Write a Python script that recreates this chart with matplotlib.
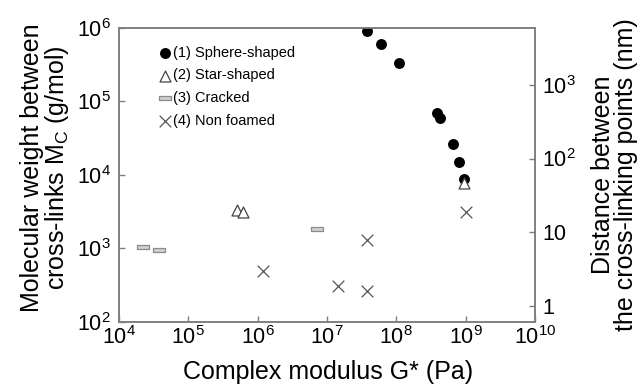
import matplotlib
matplotlib.use("Agg")
import matplotlib.pyplot as plt
import numpy as np

plt.rcParams['font.family'] = ['Liberation Sans', 'DejaVu Sans']
plt.rcParams['mathtext.fontset'] = 'custom'
plt.rcParams['mathtext.rm'] = 'Liberation Sans'
plt.rcParams['mathtext.it'] = 'Liberation Sans:italic'
plt.rcParams['mathtext.bf'] = 'Liberation Sans:bold'

# log10 values
sphere_logG = [7.57, 7.78, 8.04, 8.58, 8.63, 8.81, 8.90, 8.97]
sphere_logM = [5.96, 5.78, 5.53, 4.84, 4.77, 4.42, 4.17, 3.94]
star_logG = [5.70, 5.79, 8.97]
star_logM = [3.52, 3.50, 3.89]
cracked_logG = [4.34, 4.58, 6.86]
cracked_logM = [3.02, 2.98, 3.27]
nonfoam_logG = [6.08, 7.16, 7.57, 7.57, 9.00]
nonfoam_logM = [2.70, 2.49, 2.42, 3.11, 3.49]

legend_labels = ['(1) Sphere-shaped', '(2) Star-shaped', '(3) Cracked', '(4) Non foamed']
xticks_exp = [4, 5, 6, 7, 8, 9, 10]
yticks_exp = [2, 3, 4, 5, 6]
right_ticks = [1, 10, 100, 1000]
right_ticklabels = ['1', '10', r'$10^{2}$', r'$10^{3}$']
right_ylim = (10 ** -0.224, 10 ** 3.776)

gray = '#808080'

fig = plt.figure(figsize=(6.37, 3.86), dpi=100)
ax = fig.add_axes([0.1868, 0.1658, 0.6531, 0.7617])

p = lambda v: 10 ** np.asarray(v)
rect = [(-1, -0.33), (1, -0.33), (1, 0.33), (-1, 0.33), (-1, -0.33)]

h1 = ax.scatter(p(sphere_logG), p(sphere_logM), s=62, marker='o', color='black',
                linewidths=0, zorder=3)
h2 = ax.scatter(p(star_logG), p(star_logM), s=62, marker='^', facecolor='white',
                edgecolor='#444444', linewidths=0.9, zorder=4)
h3 = ax.scatter(p(cracked_logG), p(cracked_logM), s=75, marker=rect, facecolor='#d0d0d0',
                edgecolor='#8a8a8a', linewidths=0.9, zorder=3)
h4 = ax.scatter(p(nonfoam_logG), p(nonfoam_logM), s=70, marker='x', color='#555555',
                linewidths=0.9, zorder=3)

ax.set_xscale('log')
ax.set_yscale('log')
ax.set_xlim(1e4, 1e10)
ax.set_ylim(1e2, 1e6)
ax.set_xticks([10.0 ** e for e in xticks_exp])
ax.set_xticklabels([r'$10^{%d}$' % e for e in xticks_exp])
ax.set_yticks([10.0 ** e for e in yticks_exp])
ax.set_yticklabels([r'$10^{%d}$' % e for e in yticks_exp])
ax.minorticks_off()
ax.tick_params(axis='x', direction='in', length=4, width=1, color=gray,
               labelsize=15.5, pad=3)
ax.tick_params(axis='y', direction='in', length=4, width=1, color=gray,
               labelsize=15.5, pad=6)
for s in ax.spines.values():
    s.set_color(gray)
    s.set_linewidth(1.2)

ax.set_xlabel('Complex modulus G* (Pa)', fontsize=18)
ax.xaxis.label.set_va('center')
ax.xaxis.set_label_coords(0.502, -0.17)
ax.set_ylabel('Molecular weight between\ncross-links M$_\\mathrm{C}$ (g/mol)', fontsize=18,
              linespacing=0.95)
ax.yaxis.label.set_va('center')
ax.yaxis.set_label_coords(-0.177, 0.525)

ax2 = ax.twinx()
ax2.set_yscale('log')
ax2.set_ylim(*right_ylim)
ax2.set_yticks(right_ticks)
ax2.set_yticklabels(right_ticklabels)
ax2.minorticks_off()
ax2.tick_params(axis='y', direction='in', length=4, width=1, color=gray,
                labelsize=15.5, pad=5)
for s in ax2.spines.values():
    s.set_color(gray)
    s.set_linewidth(1.2)
ax2.set_ylabel('Distance between\nthe cross-linking points (nm)', fontsize=18,
               linespacing=0.95)
ax2.yaxis.label.set_va('center')
ax2.yaxis.set_label_coords(1.191, 0.5)

leg = ax.legend([h1, h2, h3, h4], legend_labels, loc='upper left',
                bbox_to_anchor=(0.095, 0.94), frameon=False, fontsize=10.5,
                handletextpad=0.1, handlelength=0.9, labelspacing=0.6,
                borderaxespad=0, borderpad=0)

fig.savefig('out.png', dpi=100)
